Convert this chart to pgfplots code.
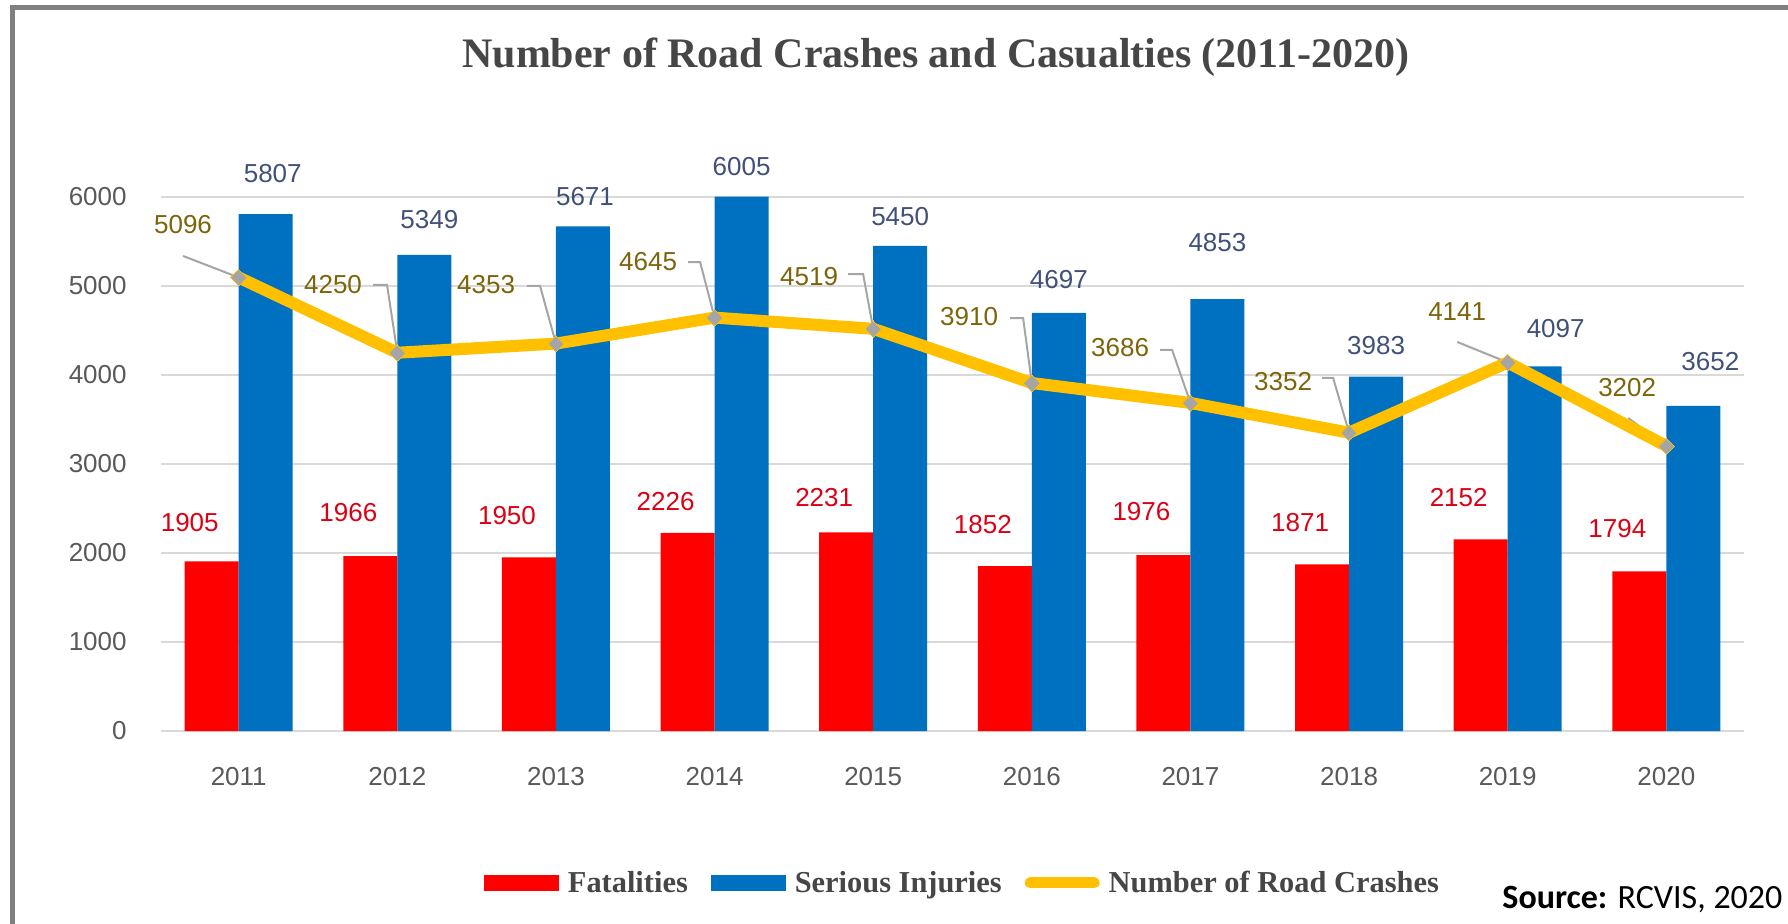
\documentclass[border=0pt]{standalone}
\usepackage{pgfplots}
\pgfplotsset{compat=1.18}
\usepackage{pgfplotstable}
\usepackage{fontspec}
\setmainfont{Liberation Serif}
\newfontfamily\arial{Liberation Sans}
\newfontfamily\carlito{Carlito}

\definecolor{fatred}{RGB}{255,0,0}
\definecolor{serblue}{RGB}{0,112,192}
\definecolor{crashyel}{RGB}{255,192,0}
\definecolor{markgray}{RGB}{165,165,165}
\definecolor{gridgray}{RGB}{217,217,217}
\definecolor{tickgray}{RGB}{89,89,89}
\definecolor{labred}{RGB}{220,0,20}
\definecolor{labblue}{RGB}{64,80,120}
\definecolor{labgold}{RGB}{125,100,10}
\definecolor{titlegray}{RGB}{70,70,70}
\definecolor{framegray}{RGB}{128,128,128}

% year index, fatalities, serious injuries, road crashes
\pgfplotstableread{
idx fat ser crash
0 1905 5807 5096
1 1966 5349 4250
2 1950 5671 4353
3 2226 6005 4645
4 2231 5450 4519
5 1852 4697 3910
6 1976 4853 3686
7 1871 3983 3352
8 2152 4097 4141
9 1794 3652 3202
}\roadtab

\newcommand{\labfont}{\arial\fontsize{13bp}{15bp}\selectfont}
\tikzset{
  lab/.style={font=\labfont, inner sep=0pt, anchor=center},
  leader/.style={markgray, line width=1bp},
}

\begin{document}
\begin{tikzpicture}
\useasboundingbox (0,0) rectangle (894bp,462bp);
\draw[framegray, line width=2.5bp] (6.25bp,0bp) -- (6.25bp,458.25bp) -- (894bp,458.25bp);

\begin{axis}[
  at={(80.5bp,96.5bp)}, anchor=south west,
  width=791.5bp, height=267bp, scale only axis,
  xmin=-0.49, xmax=9.49, ymin=0, ymax=6000,
  enlargelimits=false, clip=false,
  axis line style={draw=none}, tick style={draw=none},
  ymajorgrids, grid style={gridgray, line width=1bp},
  ytick={0,1000,...,6000},
  xtick={0,...,9},
  xticklabels={2011,2012,2013,2014,2015,2016,2017,2018,2019,2020},
  /pgf/number format/assume math mode=true,
  /pgf/number format/1000 sep={},
  ticklabel style={font=\labfont, text=tickgray, inner sep=0pt},
  yticklabel style={anchor=east, xshift=-17bp},
  xticklabel style={anchor=center, yshift=-23bp},
  legend columns=3,
  legend cell align=left,
  legend style={at={(0.2040,-0.2846)}, anchor=west, draw=none, fill=none,
    inner sep=0pt, outer sep=0pt, text=titlegray,
    font=\bfseries\fontsize{15.2bp}{17bp}\selectfont,
    nodes={inner sep=0pt},
    /tikz/every odd column/.append style={column sep=4.5bp},
    /tikz/every even column/.append style={column sep=11.5bp}},
]

\addplot[ybar, bar width=27bp, bar shift=-13.5bp, fill=fatred, draw=none,
  legend image code/.code={\fill[fatred] (0bp,-4bp) rectangle (37.5bp,4bp);}]
  table[x=idx, y=fat] {\roadtab};
\addlegendentry{Fatalities}
\addplot[ybar, bar width=27bp, bar shift=13.5bp, fill=serblue, draw=none,
  legend image code/.code={\fill[serblue] (0bp,-4bp) rectangle (37.5bp,4bp);}]
  table[x=idx, y=ser] {\roadtab};
\addlegendentry{Serious Injuries}

% leader lines for the crash labels
\draw[leader] (axis cs:0,5096) -- ++(-27.85bp,10.75bp);
\draw[leader] (axis cs:1,4250) -- ++(-5.15bp,33.9bp) -- ++(-7bp,0bp);
\draw[leader] (axis cs:2,4353) -- ++(-7.95bp,28.8bp) -- ++(-6.5bp,0bp);
\draw[leader] (axis cs:3,4645) -- ++(-7.25bp,27.8bp) -- ++(-6bp,0bp);
\draw[leader] (axis cs:4,4519) -- ++(-5.05bp,27.4bp) -- ++(-7.5bp,0bp);
\draw[leader] (axis cs:5,3910) -- ++(-4.35bp,32.5bp) -- ++(-6.5bp,0bp);
\draw[leader] (axis cs:6,3686) -- ++(-9.15bp,26.5bp) -- ++(-6bp,0bp);
\draw[leader] (axis cs:7,3352) -- ++(-7.95bp,27.35bp) -- ++(-5.5bp,0bp);
\draw[leader] (axis cs:8,4141) -- ++(-25.25bp,10.25bp);
\draw[leader] (axis cs:9,3202) -- ++(-19.05bp,14bp);

\addplot[crashyel, line width=6bp, line join=round,
  mark=square*, mark size=2.9bp,
  mark options={fill=markgray, draw=none, rotate=45, line width=0pt},
  legend image code/.code={\draw[crashyel, line width=5.5bp, line cap=round] (2.75bp,0bp) -- (34.75bp,0bp);}]
  table[x=idx, y=crash] {\roadtab};
\addlegendentry{Number of Road Crashes}

% fatalities labels
\node[lab, text=labred, xshift=-24.5bp, yshift=19.5bp] at (axis cs:0,1905) {1905};
\node[lab, text=labred, xshift=-24.5bp, yshift=21.5bp] at (axis cs:1,1966) {1966};
\node[lab, text=labred, xshift=-24.5bp, yshift=21bp] at (axis cs:2,1950) {1950};
\node[lab, text=labred, xshift=-24.5bp, yshift=15.5bp] at (axis cs:3,2226) {2226};
\node[lab, text=labred, xshift=-24.5bp, yshift=17.5bp] at (axis cs:4,2231) {2231};
\node[lab, text=labred, xshift=-24.5bp, yshift=21bp] at (axis cs:5,1852) {1852};
\node[lab, text=labred, xshift=-24.5bp, yshift=22bp] at (axis cs:6,1976) {1976};
\node[lab, text=labred, xshift=-24.5bp, yshift=21bp] at (axis cs:7,1871) {1871};
\node[lab, text=labred, xshift=-24.5bp, yshift=21bp] at (axis cs:8,2152) {2152};
\node[lab, text=labred, xshift=-24.5bp, yshift=21.5bp] at (axis cs:9,1794) {1794};

% serious injuries labels
\node[lab, text=labblue, xshift=17bp, yshift=20.5bp] at (axis cs:0,5807) {5807};
\node[lab, text=labblue, xshift=16bp, yshift=17.5bp] at (axis cs:1,5349) {5349};
\node[lab, text=labblue, xshift=14.5bp, yshift=15bp] at (axis cs:2,5671) {5671};
\node[lab, text=labblue, xshift=13.5bp, yshift=15bp] at (axis cs:3,6005) {6005};
\node[lab, text=labblue, xshift=13.5bp, yshift=14.5bp] at (axis cs:4,5450) {5450};
\node[lab, text=labblue, xshift=13.5bp, yshift=16.5bp] at (axis cs:5,4697) {4697};
\node[lab, text=labblue, xshift=13.5bp, yshift=28.5bp] at (axis cs:6,4853) {4853};
\node[lab, text=labblue, xshift=13.5bp, yshift=15.5bp] at (axis cs:7,3983) {3983};
\node[lab, text=labblue, xshift=24bp, yshift=19bp] at (axis cs:8,4097) {4097};
\node[lab, text=labblue, xshift=22bp, yshift=22bp] at (axis cs:9,3652) {3652};

% road crash labels
\node[lab, text=labgold, xshift=-27.85bp, yshift=26.25bp] at (axis cs:0,5096) {5096};
\node[lab, text=labgold, xshift=-32.15bp, yshift=33.9bp] at (axis cs:1,4250) {4250};
\node[lab, text=labgold, xshift=-34.95bp, yshift=29.3bp] at (axis cs:2,4353) {4353};
\node[lab, text=labgold, xshift=-33.25bp, yshift=27.8bp] at (axis cs:3,4645) {4645};
\node[lab, text=labgold, xshift=-32.05bp, yshift=25.9bp] at (axis cs:4,4519) {4519};
\node[lab, text=labgold, xshift=-31.35bp, yshift=33bp] at (axis cs:5,3910) {3910};
\node[lab, text=labgold, xshift=-35.15bp, yshift=27.5bp] at (axis cs:6,3686) {3686};
\node[lab, text=labgold, xshift=-32.95bp, yshift=25.35bp] at (axis cs:7,3352) {3352};
\node[lab, text=labgold, xshift=-25.25bp, yshift=25.25bp] at (axis cs:8,4141) {4141};
\node[lab, text=labgold, xshift=-19.55bp, yshift=29bp] at (axis cs:9,3202) {3202};
\end{axis}

\node[anchor=base, text=titlegray, font=\bfseries\fontsize{21bp}{25bp}\selectfont, inner sep=0pt]
  at (468bp,428bp) {Number of Road Crashes and Casualties (2011-2020)};
\node[anchor=base west, inner sep=0pt, font=\carlito\fontsize{17bp}{20bp}\selectfont]
  at (751bp,8bp) {\textbf{Source:} RCVIS, 2020};
\end{tikzpicture}
\end{document}
